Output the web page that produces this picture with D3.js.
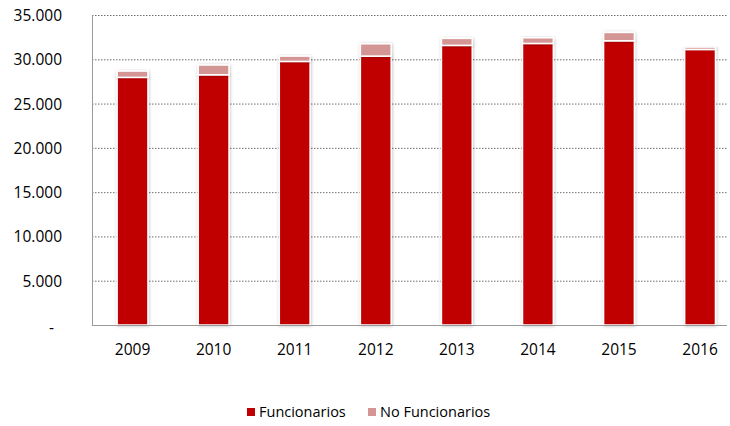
<!DOCTYPE html>
<html><head><meta charset="utf-8">
<script src="https://cdn.jsdelivr.net/npm/d3@7/dist/d3.min.js"></script>
<style>body{margin:0;background:#fff;} svg{display:block;font-family:"Open Sans",sans-serif;}</style>
</head><body>
<script>
const years = ["2009","2010","2011","2012","2013","2014","2015","2016"];
const funcionarios = [27960, 28250, 29760, 30360, 31570, 31790, 32090, 31110];
const noFuncionarios = [710, 1100, 600, 1390, 790, 640, 940, 270];
const yTicks = [0, 5000, 10000, 15000, 20000, 25000, 30000, 35000];
const seriesNames = ["Funcionarios", "No Funcionarios"];
const colors = ["#C00000", "#D49694"];

const W = 730, H = 426;
const svg = d3.select("body").append("svg").attr("width", W).attr("height", H);
const defs = svg.append("defs");
const f = defs.append("filter").attr("id","sh").attr("x","-30%").attr("y","-30%").attr("width","160%").attr("height","160%");
f.append("feDropShadow").attr("dx",0.5).attr("dy",0.5).attr("stdDeviation",1.6).attr("flood-color","#000").attr("flood-opacity",0.25);

const mLeft = 92, mRight = 740.6, mTop = 15, mBottom = 325;
const x = d3.scaleBand().domain(years).range([mLeft, mRight]).paddingInner(0.62).paddingOuter(0.31);
const y = d3.scaleLinear().domain([0, 35000]).range([mBottom, mTop]);

const fmt = v => v === 0 ? "-" : d3.format(",")(v).replace(/,/g, ".");

// gridlines
svg.append("g").selectAll("line").data(yTicks.filter(d => d > 0)).join("line")
  .attr("x1", mLeft).attr("x2", 727).attr("y1", d => y(d) + 0.5).attr("y2", d => y(d) + 0.5)
  .attr("stroke", "#707070").attr("stroke-width", 1).attr("stroke-dasharray", "1.5,1.5");

// y labels
const yAxis = d3.axisLeft(y).tickValues(yTicks).tickFormat(fmt).tickSize(0).tickPadding(0);
const ga = svg.append("g").attr("transform", `translate(${mLeft - 30},0)`).call(yAxis);
ga.select(".domain").remove();
ga.selectAll("text").attr("font-size", "15.5px").attr("fill", "#000").attr("font-family", "Open Sans")
  .attr("dy", "0.35em");
ga.selectAll(".tick").filter(d => d === 0).select("text").attr("x", -8).attr("dy", "0.5em");

// bars
const stackData = years.map((yr, i) => ({ year: yr, f: funcionarios[i], n: noFuncionarios[i] }));
const stack = d3.stack().keys(["f", "n"])(stackData);
const gb = svg.append("g");
stack.forEach((layer, li) => {
  gb.append("g").selectAll("rect").data(layer).join("rect")
    .attr("x", d => x(d.data.year))
    .attr("width", x.bandwidth())
    .attr("y", d => y(d[1]))
    .attr("height", d => y(d[0]) - y(d[1]))
    .attr("fill", colors[li])
    .attr("stroke", "#fff").attr("stroke-width", 1.5)
    .attr("filter", "url(#sh)");
});

// axes lines
svg.append("line").attr("x1", mLeft).attr("x2", 727).attr("y1", mBottom + 0.5).attr("y2", mBottom + 0.5)
  .attr("stroke", "#999").attr("stroke-width", 1);
svg.append("line").attr("x1", mLeft + 0.5).attr("x2", mLeft + 0.5).attr("y1", mTop).attr("y2", mBottom + 0.5)
  .attr("stroke", "#999").attr("stroke-width", 1);

// x labels
const xAxis = d3.axisBottom(x).tickSize(0).tickPadding(0);
const gx = svg.append("g").attr("transform", `translate(0,${mBottom})`).call(xAxis);
gx.select(".domain").remove();
gx.selectAll("text").attr("font-size", "15.5px").attr("fill", "#000").attr("font-family", "Open Sans")
  .attr("y", 25).attr("dy", "0.35em");

// legend
const leg = svg.append("g");
const legX = [247, 368];
seriesNames.forEach((name, i) => {
  leg.append("rect").attr("x", legX[i]).attr("y", 408).attr("width", 8).attr("height", 8).attr("fill", colors[i]);
  leg.append("text").attr("x", legX[i] + 12).attr("y", 412).attr("dy", "0.35em")
    .attr("font-size", "14.5px").attr("fill", "#000").text(name);
});
</script>
</body></html>
